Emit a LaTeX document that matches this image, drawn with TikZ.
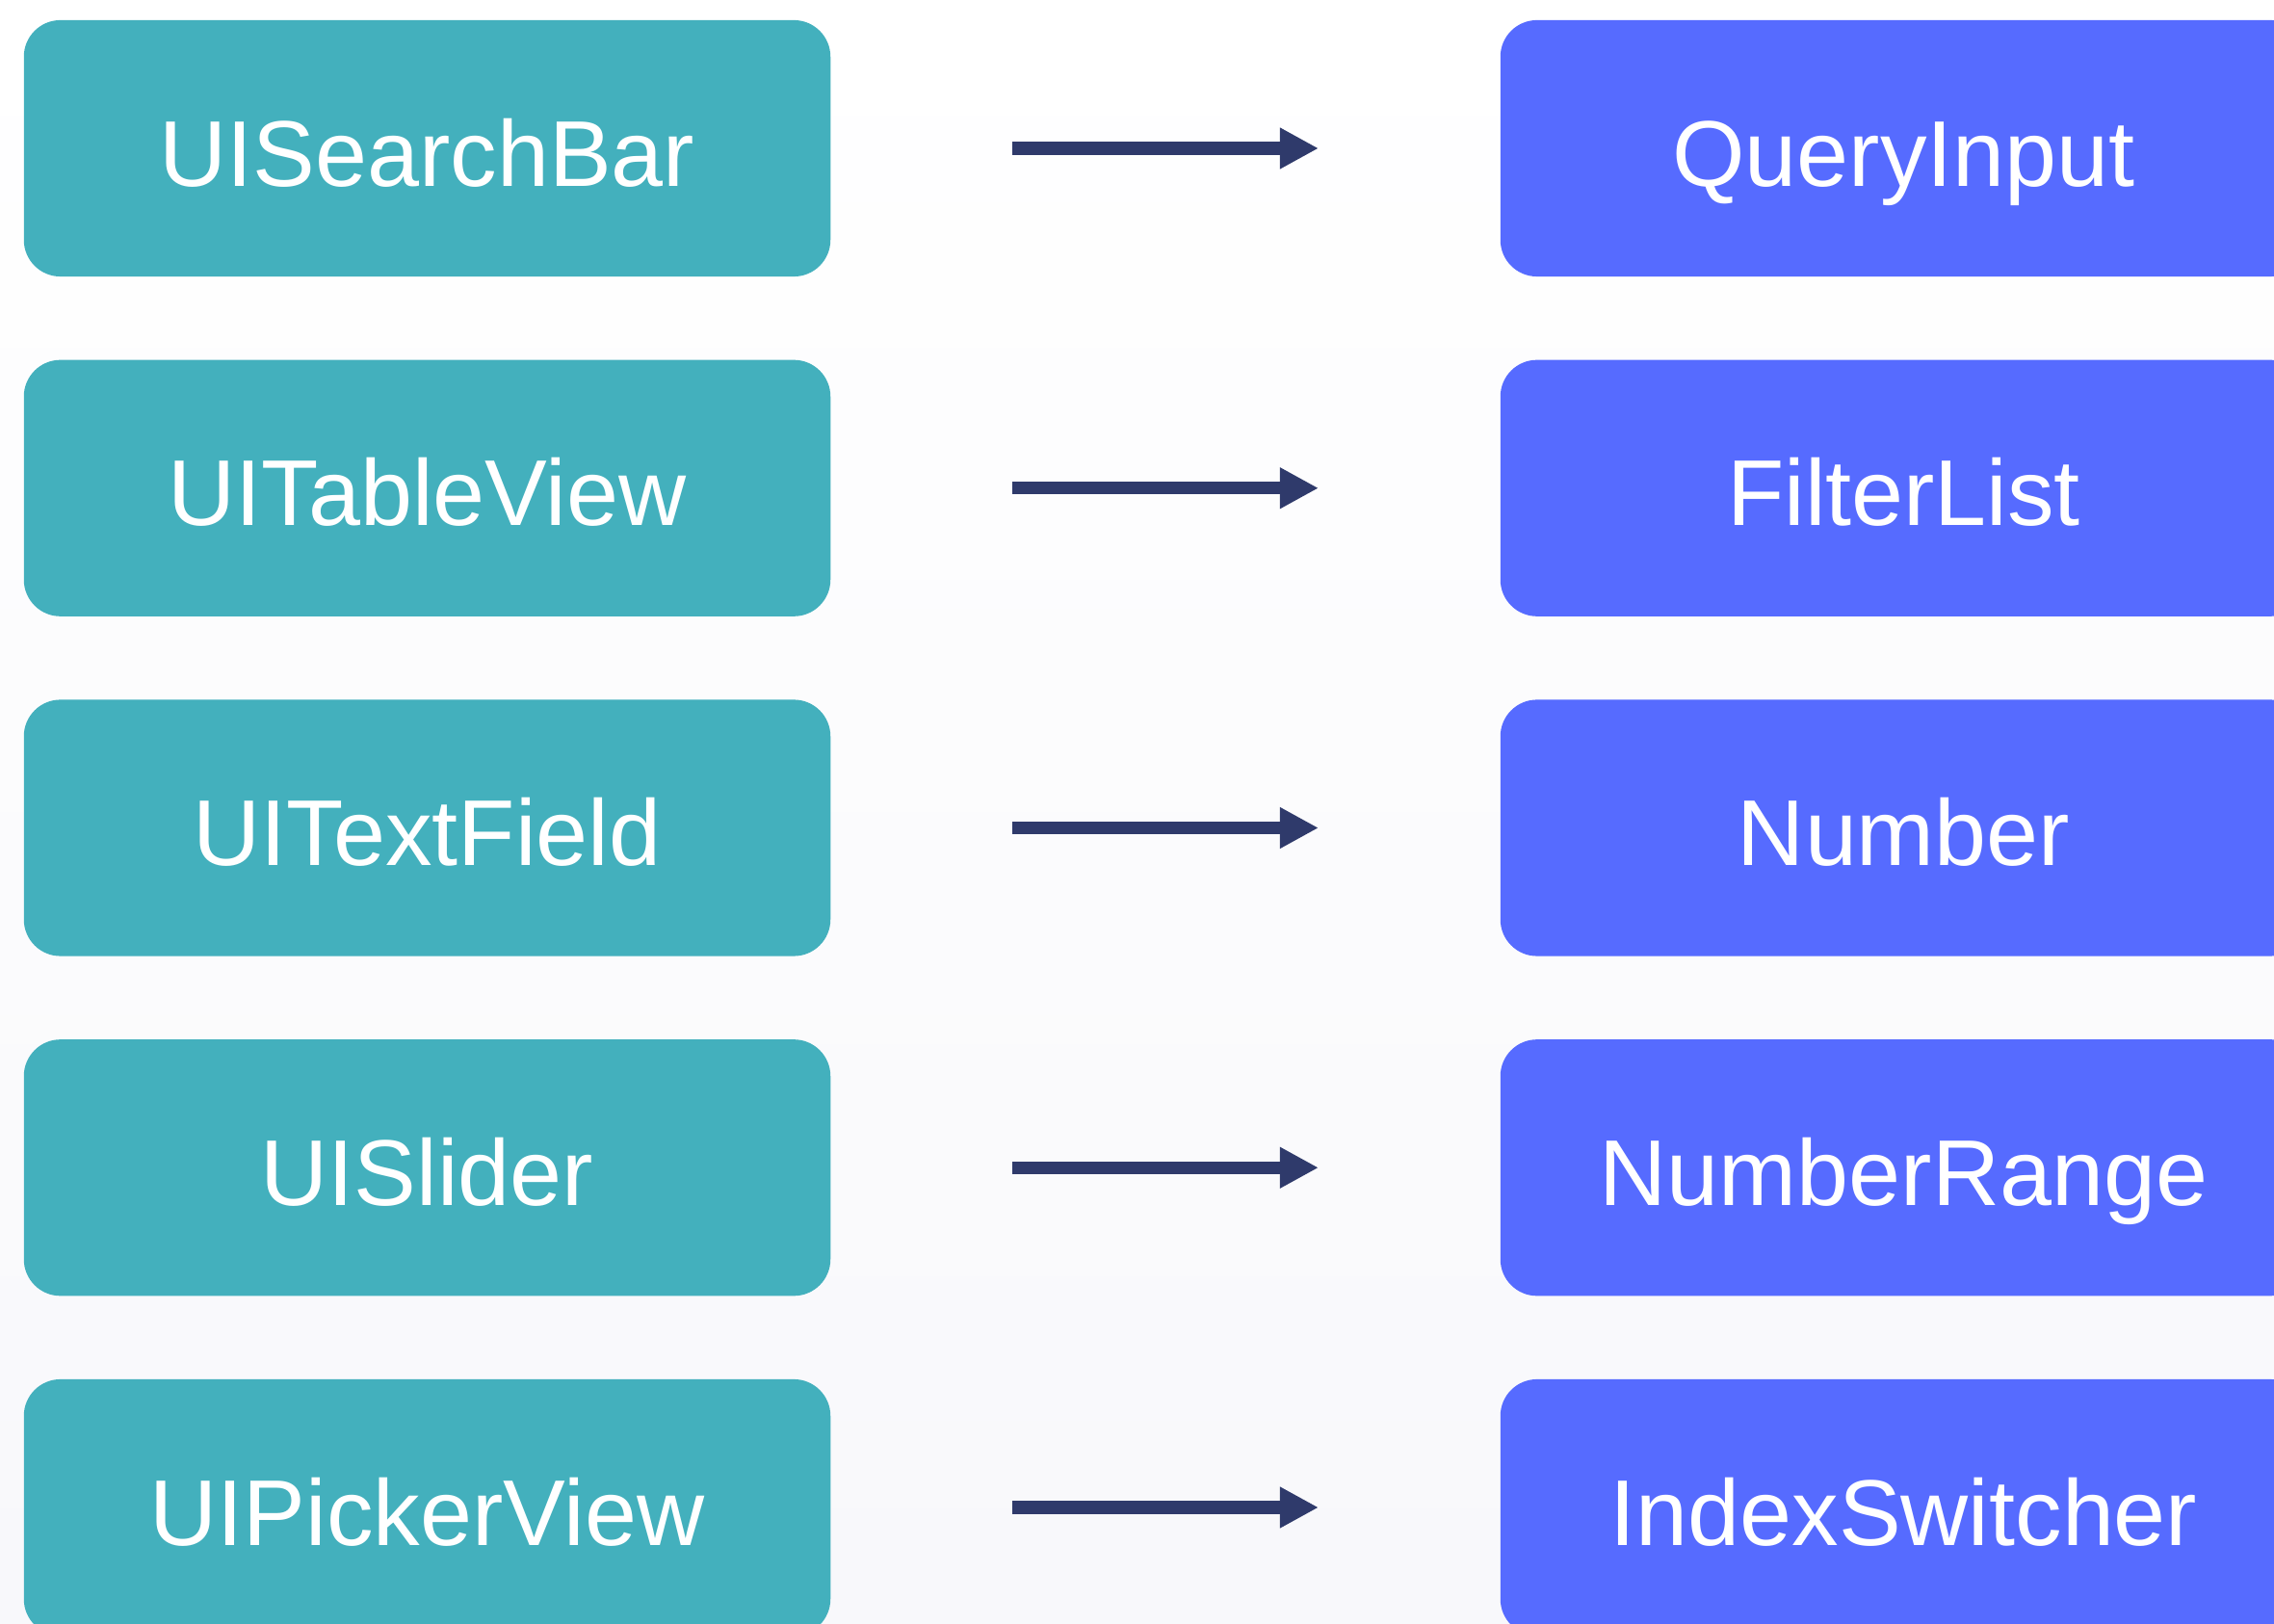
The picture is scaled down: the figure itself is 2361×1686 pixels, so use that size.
\documentclass[tikz,border=0pt]{standalone}
\usepackage{fontspec}
\setmainfont{Liberation Sans}
\usetikzlibrary{arrows.meta}
\definecolor{teal1}{HTML}{43B0BD}
\definecolor{blue1}{HTML}{566BFF}
\definecolor{navy1}{HTML}{2F3A6B}
\definecolor{bgbot}{HTML}{F8F8FB}
\tikzset{
  box/.style={minimum width=8.37cm, minimum height=2.66cm, inner sep=0pt,
    text height=0.78cm, text depth=0pt,
    rounded corners=0.38cm, text=white, font=\fontsize{27.6pt}{33pt}\selectfont},
  srcbox/.style={box, fill=teal1},
  dstbox/.style={box, fill=blue1},
  arr/.style={draw=navy1, line width=0.133cm,
    -{Triangle[length=0.40cm,width=0.40cm]},
    shorten <=1.88cm, shorten >=1.88cm}
}
\begin{document}
\begin{tikzpicture}[x=0.01cm,y=-0.01cm]
\shade[top color=white, bottom color=bgbot] (0,0) rectangle (2361,1686);
\useasboundingbox (0,0) rectangle (2361,1686);
\clip (0,0) rectangle (2361,1686);
\node[srcbox] (l1) at (443.5,154) {UISearchBar};
\node[srcbox] (l2) at (443.5,506.75) {UITableView};
\node[srcbox] (l3) at (443.5,859.5) {UITextField};
\node[srcbox] (l4) at (443.5,1212.25) {UISlider};
\node[srcbox] (l5) at (443.5,1565) {UIPickerView};
\node[dstbox] (r1) at (1976.5,154) {QueryInput};
\node[dstbox] (r2) at (1976.5,506.75) {FilterList};
\node[dstbox] (r3) at (1976.5,859.5) {Number};
\node[dstbox] (r4) at (1976.5,1212.25) {NumberRange};
\node[dstbox] (r5) at (1976.5,1565) {IndexSwitcher};
\foreach \i in {1,...,5} {
  \draw[arr] (l\i.east) -- (r\i.west);
}
\end{tikzpicture}
\end{document}
